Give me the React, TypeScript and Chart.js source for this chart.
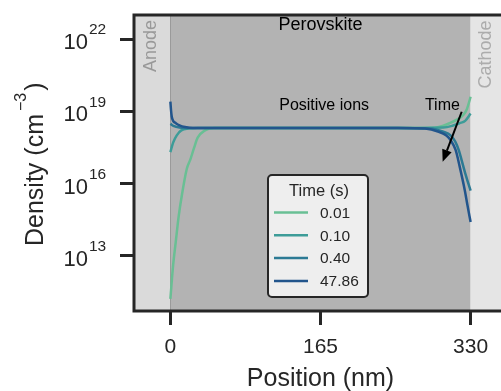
import React, { useEffect, useRef } from 'react';
import { Chart, registerables } from 'chart.js';

Chart.register(...registerables);

// ---------- data ----------
const legendTitle = 'Time (s)';
const seriesLabels = ['0.01', '0.10', '0.40', '47.86'];
const seriesColors = ['#69bf94', '#3d9c98', '#2c7a94', '#22558c'];

// positions (nm) and densities (cm^-3) per series
const pos001 = [0, 3, 6, 9, 13, 18, 22, 26, 30, 38, 48, 100, 165, 250, 290, 300, 307, 315, 322, 326, 330];
const dens001 = [1.6e11, 4e12, 4e13, 4e14, 4e15, 4e16, 1e17, 3e17, 8e17, 1.6e18, 2e18, 2e18, 2e18, 2e18, 2.05e18, 2.5e18, 3.2e18, 4.5e18, 7e18, 1.25e19, 4e19];

const pos010 = [0, 3, 7, 12, 20, 30, 100, 165, 250, 300, 310, 318, 324, 330];
const dens010 = [2e17, 5e17, 1e18, 1.6e18, 1.9e18, 2e18, 2e18, 2e18, 2e18, 2.1e18, 2.5e18, 3.2e18, 4e18, 8e18];

const pos040 = [0, 4, 10, 20, 100, 165, 250, 285, 300, 308, 313, 317, 321, 325, 330];
const dens040 = [3e18, 2.4e18, 2.1e18, 2e18, 2e18, 2e18, 2e18, 1.9e18, 1.4e18, 1e18, 5.6e17, 2.4e17, 7e16, 2e16, 5e15];

const pos4786 = [0, 0.7, 1.5, 3, 6, 10, 16, 25, 100, 165, 250, 280, 295, 303, 308, 313.6, 318, 323.7, 326.5, 330];
const dens4786 = [2.5e19, 1.1e19, 5.9e18, 4e18, 3.2e18, 2.6e18, 2.2e18, 2e18, 2e18, 2e18, 2e18, 1.9e18, 1.4e18, 1e18, 6.3e17, 2.4e17, 5e16, 5e15, 1.26e15, 2.5e14];

const seriesPositions = [pos001, pos010, pos040, pos4786];
const seriesDensities = [dens001, dens010, dens040, dens4786];

const xTicks = [0, 165, 330];
const yTickExponents = [13, 16, 19, 22];

const regionBounds = [[-40, 0], [0, 330], [330, 370]];
const regionColors = ['#dadada', '#b3b3b3', '#e5e5e5'];

// annotations in data coordinates
const textNotes = [
  { text: 'Perovskite', x: 165, y: 10 ** 22.58, size: 18, color: '#000000', rot: false },
  { text: 'Positive ions', x: 169, y: 10 ** 19.22, size: 16, color: '#000000', rot: false },
  { text: 'Time', x: 299, y: 10 ** 19.22, size: 16, color: '#000000', rot: false },
  { text: 'Anode', x: -20.8, y: 10 ** 21.71, size: 18, color: '#999999', rot: true },
  { text: 'Cathode', x: 347.4, y: 10 ** 21.36, size: 18, color: '#acacac', rot: true },
];
const arrowFrom = { x: 320.2, y: 10 ** 18.98 };
const arrowTo = { x: 299.3, y: 10 ** 16.9 };

const FONT = '"Liberation Sans", Arial, Helvetica, sans-serif';
const INK = '#262626';

const decorPlugin = {
  id: 'decor',
  beforeDraw(chart: any) {
    const { ctx, chartArea, scales } = chart;
    const xs = scales.x;
    ctx.save();
    regionBounds.forEach((b, i) => {
      const a = Math.max(xs.getPixelForValue(b[0]), chartArea.left);
      const c = Math.min(xs.getPixelForValue(b[1]), chartArea.right);
      ctx.fillStyle = regionColors[i];
      ctx.fillRect(a, chartArea.top, c - a, chartArea.bottom - chartArea.top);
    });
    // thin boundary at anode
    const x0 = xs.getPixelForValue(0);
    ctx.strokeStyle = '#9a9a9a';
    ctx.lineWidth = 1;
    ctx.beginPath();
    ctx.moveTo(Math.round(x0) + 0.5, chartArea.top);
    ctx.lineTo(Math.round(x0) + 0.5, chartArea.bottom);
    ctx.stroke();
    ctx.restore();
  },
  afterDatasetsDraw(chart: any) {
    const { ctx, chartArea, scales } = chart;
    const xs = scales.x;
    const ys = scales.y;
    ctx.save();

    // text annotations
    textNotes.forEach((n) => {
      const px = xs.getPixelForValue(n.x);
      const py = ys.getPixelForValue(n.y);
      ctx.font = `${n.size}px ${FONT}`;
      ctx.fillStyle = n.color;
      ctx.textAlign = 'center';
      ctx.textBaseline = 'middle';
      if (n.rot) {
        ctx.save();
        ctx.translate(px, py);
        ctx.rotate(-Math.PI / 2);
        ctx.fillText(n.text, 0, 0);
        ctx.restore();
      } else {
        ctx.fillText(n.text, px, py);
      }
    });

    // arrow
    const ax1 = xs.getPixelForValue(arrowFrom.x);
    const ay1 = ys.getPixelForValue(arrowFrom.y);
    const ax2 = xs.getPixelForValue(arrowTo.x);
    const ay2 = ys.getPixelForValue(arrowTo.y);
    const ang = Math.atan2(ay2 - ay1, ax2 - ax1);
    const hl = 12;
    const hw = 5;
    const bx = ax2 - hl * Math.cos(ang);
    const by = ay2 - hl * Math.sin(ang);
    ctx.strokeStyle = '#000';
    ctx.fillStyle = '#000';
    ctx.lineWidth = 2;
    ctx.beginPath();
    ctx.moveTo(ax1, ay1);
    ctx.lineTo(bx, by);
    ctx.stroke();
    ctx.beginPath();
    ctx.moveTo(ax2, ay2);
    ctx.lineTo(bx + hw * Math.sin(ang), by - hw * Math.cos(ang));
    ctx.lineTo(bx - hw * Math.sin(ang), by + hw * Math.cos(ang));
    ctx.closePath();
    ctx.fill();

    // legend
    const lx = 268, ly = 175, lw = 100, lh = 122;
    ctx.fillStyle = '#eeeeee';
    ctx.strokeStyle = INK;
    ctx.lineWidth = 2;
    ctx.beginPath();
    (ctx as any).roundRect(lx, ly, lw, lh, 4);
    ctx.fill();
    ctx.stroke();
    ctx.fillStyle = INK;
    ctx.font = `16.5px ${FONT}`;
    ctx.textAlign = 'center';
    ctx.textBaseline = 'middle';
    ctx.fillText(legendTitle, lx + 51, ly + 16);
    chart.data.datasets.forEach((ds: any, i: number) => {
      const ry = ly + 37.5 + i * 22.8;
      ctx.strokeStyle = ds.borderColor;
      ctx.lineWidth = 2.5;
      ctx.beginPath();
      ctx.moveTo(lx + 6, ry);
      ctx.lineTo(lx + 40, ry);
      ctx.stroke();
      ctx.fillStyle = INK;
      ctx.textAlign = 'left';
      ctx.font = `15.5px ${FONT}`;
      ctx.fillText(ds.label, lx + 52, ry + 1);
    });

    // frame
    ctx.strokeStyle = INK;
    ctx.lineWidth = 3;
    ctx.strokeRect(chartArea.left, chartArea.top, chartArea.right - chartArea.left, chartArea.bottom - chartArea.top);

    // y tick labels with superscripts
    ys.ticks.forEach((t: any) => {
      const py = ys.getPixelForValue(t.value);
      const e = Math.round(Math.log10(t.value));
      ctx.fillStyle = INK;
      ctx.textBaseline = 'middle';
      ctx.textAlign = 'right';
      ctx.font = `22px ${FONT}`;
      ctx.fillText('10', 88, py + 4);
      ctx.textAlign = 'left';
      ctx.font = `15.5px ${FONT}`;
      ctx.fillText(String(e), 89, py - 9);
    });

    // y axis title
    ctx.save();
    ctx.translate(43, 246);
    ctx.rotate(-Math.PI / 2);
    ctx.fillStyle = INK;
    ctx.textAlign = 'left';
    ctx.textBaseline = 'alphabetic';
    ctx.font = `25px ${FONT}`;
    const main = 'Density (cm';
    const w1 = ctx.measureText(main).width;
    ctx.fillText(main, 0, 0);
    ctx.font = `16px ${FONT}`;
    const sup = '\u22123';
    const w2 = ctx.measureText(sup).width;
    ctx.fillText(sup, w1 + 3, -17);
    ctx.font = `25px ${FONT}`;
    ctx.fillText(')', w1 + w2 + 5, 0);
    ctx.restore();

    ctx.restore();
  },
};

export default function App() {
  const ref = useRef<HTMLCanvasElement>(null);
  useEffect(() => {
    const canvas = ref.current;
    if (!canvas) return;
    const datasets = seriesLabels.map((label, i) => ({
      label,
      data: seriesPositions[i].map((p, j) => ({ x: p, y: seriesDensities[i][j] })),
      borderColor: seriesColors[i],
      backgroundColor: seriesColors[i],
      borderWidth: 2.5,
      pointRadius: 0,
      fill: false,
      cubicInterpolationMode: 'monotone' as const,
      order: seriesLabels.length - 1 - i,
    }));
    const tickGrid = {
      display: true,
      drawOnChartArea: false,
      drawTicks: true,
      tickLength: 14,
      tickWidth: 3,
      tickColor: INK,
    };
    const chart = new Chart(canvas, {
      type: 'line',
      data: { datasets },
      options: {
        animation: false,
        responsive: false,
        devicePixelRatio: 1,
        layout: { padding: { top: 15, right: 13, left: 0, bottom: 0 } },
        plugins: { legend: { display: false }, tooltip: { enabled: false } },
        scales: {
          x: {
            type: 'linear',
            min: -40,
            max: 370,
            afterBuildTicks: (s: any) => {
              s.ticks = xTicks.map((v) => ({ value: v }));
            },
            afterFit: (s: any) => {
              s.height = 80;
            },
            grid: tickGrid,
            border: { display: false },
            ticks: {
              font: { family: FONT, size: 21 },
              color: INK,
              padding: 10,
              maxRotation: 0,
              autoSkip: false,
              callback: (v: any) => String(v),
            },
            title: {
              display: true,
              text: 'Position (nm)',
              color: INK,
              font: { family: FONT, size: 25, lineHeight: 1 },
              padding: { top: 0, bottom: -1 },
            },
          },
          y: {
            type: 'logarithmic',
            min: 5e10,
            max: 1e23,
            afterBuildTicks: (s: any) => {
              s.ticks = yTickExponents.map((e) => ({ value: 10 ** e }));
            },
            afterFit: (s: any) => {
              s.width = 134;
            },
            grid: tickGrid,
            border: { display: false },
            ticks: { callback: () => '', font: { family: FONT, size: 20 } },
          },
        },
      } as any,
      plugins: [decorPlugin],
    });
    return () => chart.destroy();
  }, []);
  return (
    <div
      style={{
        position: 'fixed',
        left: 0,
        top: 0,
        width: 501,
        height: 391,
        overflow: 'hidden',
        background: '#ffffff',
      }}
    >
      <canvas ref={ref} width={520} height={391} style={{ display: 'block', width: 520, height: 391 }} />
    </div>
  );
}
